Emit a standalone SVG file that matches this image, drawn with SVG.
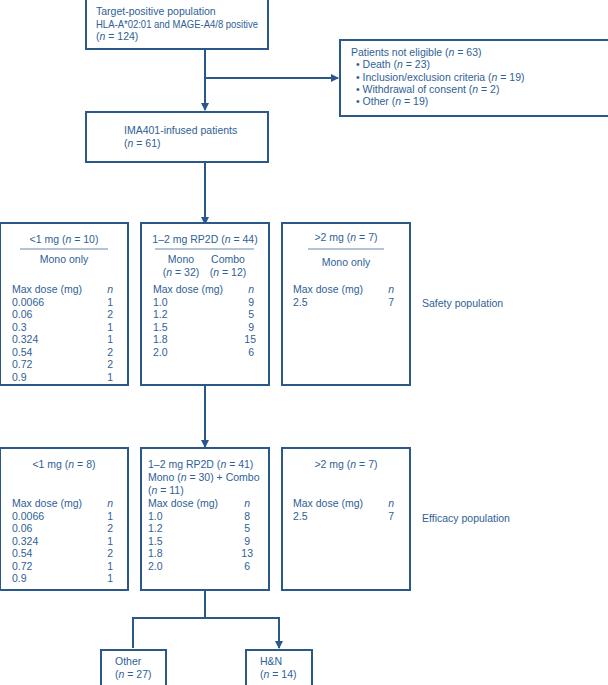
<svg xmlns="http://www.w3.org/2000/svg" width="608" height="685" viewBox="0 0 608 685">
<style>
.b{fill:#fff;stroke:#2a5889;stroke-width:2}
.c{fill:none;stroke:#2a5889;stroke-width:2}
.h{stroke:#2a5889;stroke-width:1;opacity:.7}
text{font-family:"Liberation Sans",Arial,sans-serif;font-size:10.5px;fill:#2f6196}
.m{text-anchor:middle}.e{text-anchor:end}
</style>
<defs><marker id="a" viewBox="0 0 8 8" refX="7" refY="4" markerWidth="4" markerHeight="4" orient="auto"><path d="M0,0L8,4L0,8z" fill="#2a5889"/></marker></defs>
<rect width="608" height="685" fill="#fff"/>
<g id="connectors">
<path class="c" d="M205,49V110" marker-end="url(#a)"/>
<path class="c" d="M205,78H338" marker-end="url(#a)"/>
<path class="c" d="M205,162V224" marker-end="url(#a)"/>
<path class="c" d="M205,385V447" marker-end="url(#a)"/>
<path class="c" d="M205,590V618M133,648V618H279V648" marker-end="url(#a)"/>
</g>
<g id="target"><rect class="b" x="86" y="-2" width="182" height="51"/>
<text x="96" y="15">Target-positive population</text><text x="96" y="28" textLength="162" lengthAdjust="spacingAndGlyphs">HLA-A*02:01 and MAGE-A4/8 positive</text><text x="96" y="40">(<tspan font-style="italic">n</tspan> = 124)</text></g>
<g id="noteligible"><rect class="b" x="340" y="40" width="270" height="76"/>
<text x="351" y="56">Patients not eligible (<tspan font-style="italic">n</tspan> = 63)</text>
<text x="356" y="68">• Death (<tspan font-style="italic">n</tspan> = 23)</text>
<text x="356" y="81">• Inclusion/exclusion criteria (<tspan font-style="italic">n</tspan> = 19)</text>
<text x="356" y="93">• Withdrawal of consent (<tspan font-style="italic">n</tspan> = 2)</text>
<text x="356" y="105">• Other (<tspan font-style="italic">n</tspan> = 19)</text></g>
<g id="infused"><rect class="b" x="86" y="112" width="182" height="50"/>
<text x="124" y="134">IMA401-infused patients</text><text x="124" y="147">(<tspan font-style="italic">n</tspan> = 61)</text></g>
<g id="s1"><rect class="b" x="0" y="223" width="128" height="162"/>
<text class="m" x="64" y="243">&lt;1 mg (<tspan font-style="italic">n</tspan> = 10)</text><line class="h" x1="20" y1="249" x2="108" y2="249"/>
<text class="m" x="64" y="263">Mono only</text>
<text x="12" y="293">Max dose (mg)</text><text class="e" x="113" y="293" font-style="italic">n</text>
<text x="12" y="305.5">0.0066</text><text class="e" x="113" y="305.5">1</text>
<text x="12" y="318">0.06</text><text class="e" x="113" y="318">2</text>
<text x="12" y="330.5">0.3</text><text class="e" x="113" y="330.5">1</text>
<text x="12" y="343">0.324</text><text class="e" x="113" y="343">1</text>
<text x="12" y="355.5">0.54</text><text class="e" x="113" y="355.5">2</text>
<text x="12" y="368">0.72</text><text class="e" x="113" y="368">2</text>
<text x="12" y="380.5">0.9</text><text class="e" x="113" y="380.5">1</text></g>
<g id="s2"><rect class="b" x="141" y="223" width="128" height="162"/>
<text class="m" x="205" y="243">1–2 mg RP2D (<tspan font-style="italic">n</tspan> = 44)</text><line class="h" x1="155" y1="249" x2="254" y2="249"/>
<text class="m" x="181" y="263">Mono</text><text class="m" x="228" y="263">Combo</text>
<text class="m" x="181" y="276">(<tspan font-style="italic">n</tspan> = 32)</text><text class="m" x="228" y="276">(<tspan font-style="italic">n</tspan> = 12)</text>
<text x="153" y="293">Max dose (mg)</text><text class="e" x="254" y="293" font-style="italic">n</text>
<text x="153" y="305.5">1.0</text><text class="e" x="254" y="305.5">9</text>
<text x="153" y="318">1.2</text><text class="e" x="254" y="318">5</text>
<text x="153" y="330.5">1.5</text><text class="e" x="254" y="330.5">9</text>
<text x="153" y="343">1.8</text><text class="e" x="256" y="343">15</text>
<text x="153" y="355.5">2.0</text><text class="e" x="254" y="355.5">6</text></g>
<g id="s3"><rect class="b" x="282" y="223" width="128" height="162"/>
<text class="m" x="346" y="241">&gt;2 mg (<tspan font-style="italic">n</tspan> = 7)</text><line class="h" x1="308" y1="249" x2="384" y2="249"/>
<text class="m" x="346" y="266">Mono only</text>
<text x="293" y="293">Max dose (mg)</text><text class="e" x="394" y="293" font-style="italic">n</text>
<text x="293" y="305.5">2.5</text><text class="e" x="394" y="305.5">7</text></g>
<text x="422" y="307">Safety population</text>
<g id="e1"><rect class="b" x="0" y="448" width="128" height="142"/>
<text class="m" x="64" y="468">&lt;1 mg (<tspan font-style="italic">n</tspan> = 8)</text>
<text x="12" y="507">Max dose (mg)</text><text class="e" x="113" y="507" font-style="italic">n</text>
<text x="12" y="519.5">0.0066</text><text class="e" x="113" y="519.5">1</text>
<text x="12" y="532">0.06</text><text class="e" x="113" y="532">2</text>
<text x="12" y="544.5">0.324</text><text class="e" x="113" y="544.5">1</text>
<text x="12" y="557">0.54</text><text class="e" x="113" y="557">2</text>
<text x="12" y="569.5">0.72</text><text class="e" x="113" y="569.5">1</text>
<text x="12" y="582">0.9</text><text class="e" x="113" y="582">1</text></g>
<g id="e2"><rect class="b" x="141" y="448" width="128" height="142"/>
<text x="148" y="468">1–2 mg RP2D (<tspan font-style="italic">n</tspan> = 41)</text>
<text x="148" y="481">Mono (<tspan font-style="italic">n</tspan> = 30) + Combo</text>
<text x="148" y="494">(<tspan font-style="italic">n</tspan> = 11)</text>
<text x="148" y="507">Max dose (mg)</text><text class="e" x="250" y="507" font-style="italic">n</text>
<text x="148" y="519.5">1.0</text><text class="e" x="250" y="519.5">8</text>
<text x="148" y="532">1.2</text><text class="e" x="250" y="532">5</text>
<text x="148" y="544.5">1.5</text><text class="e" x="250" y="544.5">9</text>
<text x="148" y="557">1.8</text><text class="e" x="253" y="557">13</text>
<text x="148" y="569.5">2.0</text><text class="e" x="250" y="569.5">6</text></g>
<g id="e3"><rect class="b" x="282" y="448" width="128" height="142"/>
<text class="m" x="346" y="468">&gt;2 mg (<tspan font-style="italic">n</tspan> = 7)</text>
<text x="293" y="507">Max dose (mg)</text><text class="e" x="394" y="507" font-style="italic">n</text>
<text x="293" y="519.5">2.5</text><text class="e" x="394" y="519.5">7</text></g>
<text x="422" y="522">Efficacy population</text>
<g id="other"><rect class="b" x="101" y="650" width="65" height="40"/>
<text x="115" y="665">Other</text><text x="115" y="678">(<tspan font-style="italic">n</tspan> = 27)</text></g>
<g id="hn"><rect class="b" x="246" y="650" width="66" height="40"/>
<text x="260" y="665">H&amp;N</text><text x="260" y="678">(<tspan font-style="italic">n</tspan> = 14)</text></g>
</svg>
